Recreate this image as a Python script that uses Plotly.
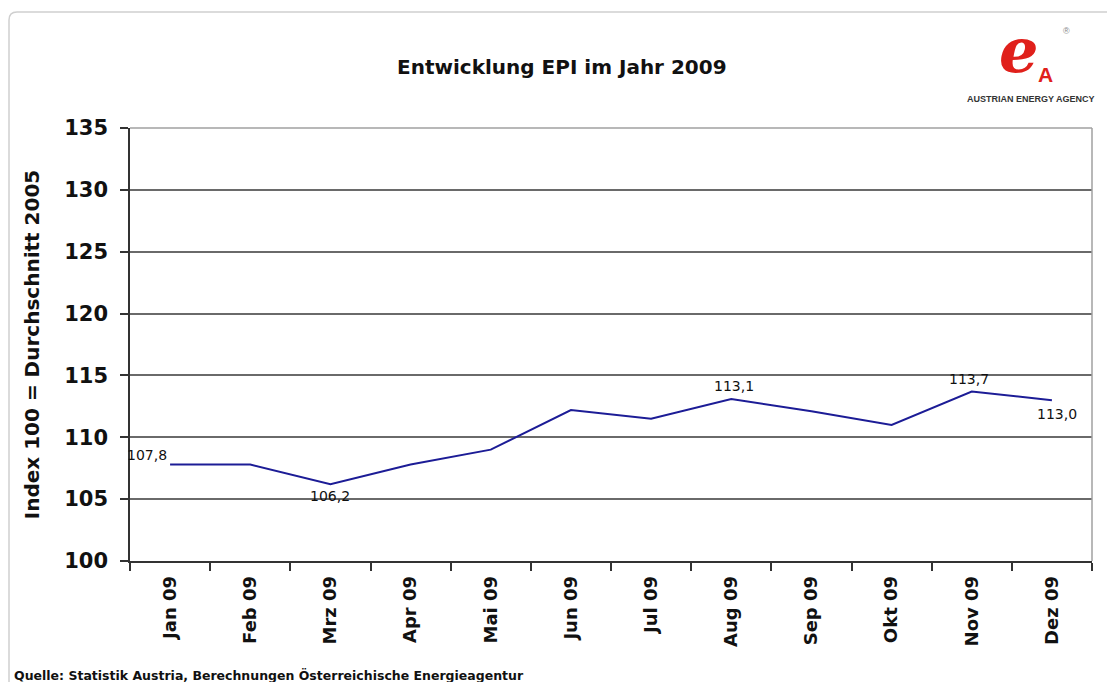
import plotly.graph_objects as go

months = ["Jan 09", "Feb 09", "Mrz 09", "Apr 09", "Mai 09", "Jun 09",
          "Jul 09", "Aug 09", "Sep 09", "Okt 09", "Nov 09", "Dez 09"]
epi = [107.8, 107.8, 106.2, 107.8, 109.0, 112.2, 111.5, 113.1, 112.1, 111.0, 113.7, 113.0]
y_ticks = [100, 105, 110, 115, 120, 125, 130, 135]

# labelled points: index -> (xshift, yshift)
labelled = {0: (-23, 10), 2: (0, -12), 7: (3, 13), 10: (-3, 13), 11: (5, -14)}

FONT = "DejaVu Sans, Arial, sans-serif"
LFONT = "Liberation Sans, Arial, sans-serif"


def px(xp):
    return (xp - 130) / 962


def py(yp):
    return (561 - yp) / 433


fig = go.Figure()
fig.add_trace(go.Scatter(
    x=months, y=epi, mode="lines",
    line=dict(color="#1c1c96", width=2),
    hoverinfo="x+y", showlegend=False,
))

annotations = []
for i, (xs, ys) in labelled.items():
    annotations.append(dict(
        x=months[i], y=epi[i], xref="x", yref="y",
        text=f"{epi[i]:.1f}".replace(".", ","),
        showarrow=False, xshift=xs, yshift=ys,
        xanchor="center", yanchor="middle",
        font=dict(family=FONT, size=14, color="#111"),
    ))


def note(x, y, text, size, color="#111", family=FONT, xanchor="center"):
    return dict(x=px(x), y=py(y), xref="paper", yref="paper", text=text,
                showarrow=False, xanchor=xanchor, yanchor="middle",
                font=dict(family=family, size=size, color=color))


annotations += [
    note(562, 67, "<b>Entwicklung EPI im Jahr 2009</b>", 20),
    note(12, 675, "<b>Quelle: Statistik Austria, Berechnungen Österreichische Energieagentur</b>",
         12.5, xanchor="left"),
    # logo
    note(1018, 50, "<b><i>e</i></b>", 62, color="#e0201b", family="DejaVu Serif, serif"),
    note(1045, 74, "<b>A</b>", 21, color="#e0201b", family=LFONT),
    note(1066, 31, "®", 9, color="#888", family=LFONT),
    note(1031, 99, "<b>AUSTRIAN ENERGY AGENCY</b>", 9, color="#333", family=LFONT),
]

r = 8
x0, x1 = px(9), px(1120)
yb, yt = py(690), py(12)
path = f"M {x0},{yb} L {x0},{py(12 + r)} Q {x0},{yt} {px(9 + r)},{yt} L {x1},{yt}"

shapes = [
    dict(type="path", xref="paper", yref="paper", path=path,
         line=dict(color="#cfcfcf", width=1.5), layer="below"),
    dict(type="line", xref="paper", yref="paper", x0=1, x1=1, y0=0, y1=1,
         line=dict(color="#a0a0a0", width=1.5)),
    dict(type="line", xref="paper", yref="paper", x0=0, x1=1, y0=1, y1=1,
         line=dict(color="#a0a0a0", width=1.5)),
]

fig.update_layout(
    width=1107, height=682,
    margin=dict(l=130, r=15, t=128, b=121, pad=0),
    paper_bgcolor="white", plot_bgcolor="white",
    font=dict(family=FONT, color="#111"),
    annotations=annotations, shapes=shapes,
    xaxis=dict(
        type="category", categoryorder="array", categoryarray=months,
        tickmode="array", tickvals=months,
        ticktext=[f"<b>{m}</b>" for m in months],
        tickangle=-90, tickfont=dict(family=FONT, size=18, color="#111"),
        ticks="outside", ticklen=8, tickcolor="#333", tickwidth=1.5,
        tickson="boundaries", ticklabelstandoff=6,
        showline=True, linecolor="#333", linewidth=1.5,
        showgrid=False, zeroline=False, range=[-0.5, 11.5],
    ),
    yaxis=dict(
        range=[100, 135], tickmode="array", tickvals=y_ticks,
        ticktext=[f"<b>{v}</b>" for v in y_ticks],
        tickfont=dict(family=FONT, size=21, color="#111"),
        ticks="outside", ticklen=8, tickcolor="#333", tickwidth=1.5,
        ticklabelstandoff=8,
        showline=True, linecolor="#333", linewidth=1.5,
        showgrid=True, gridcolor="#6a6a6a", gridwidth=1.5, zeroline=False,
        title=dict(text="<b>Index 100 = Durchschnitt 2005</b>",
                   font=dict(family=FONT, size=20, color="#111"), standoff=19),
    ),
)

fig.write_html("out.html")
